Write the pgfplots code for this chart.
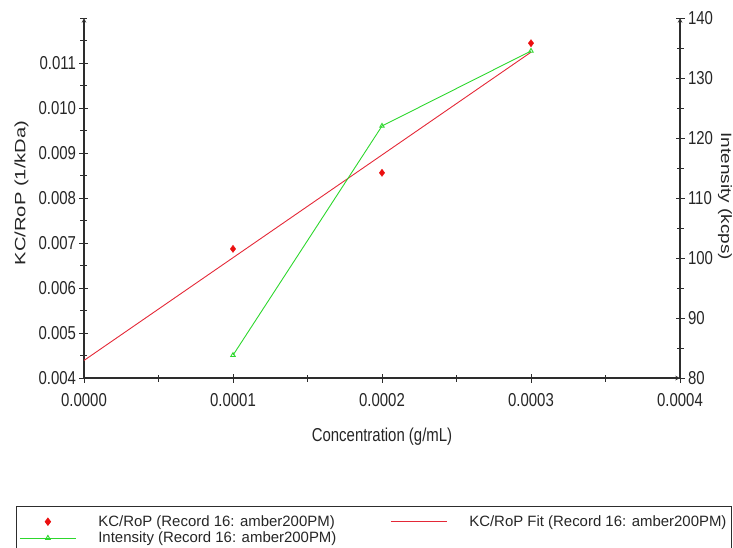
\documentclass[border=0pt]{standalone}
\usepackage{pgfplots}
\pgfplotsset{compat=1.18}
\usepackage{fontspec}
\setmainfont{Liberation Sans}

\definecolor{kred}{RGB}{235,15,15}
\definecolor{fitred}{RGB}{228,40,55}
\definecolor{igreen}{RGB}{45,215,45}
\definecolor{axgray}{RGB}{45,45,45}
\newcommand{\lfont}{\fontsize{15}{16}\selectfont}

\pgfplotsset{
  base/.style={
    width=596bp, height=360bp, scale only axis,
    xmin=0, xmax=0.0004,
    axis line style={axgray, line width=1.1pt, -},
    tick style={axgray, line width=0.9pt},
    major tick length=9bp, minor tick length=7bp,
    tick align=center,
    every tick label/.append style={font=\lfont, text=black!85, yscale=1.25, transform shape},
    /pgf/number format/assume math mode=true,
  }
}

\begin{document}
\begin{tikzpicture}
\begin{axis}[base,
  axis x line=bottom, axis y line=left,
  ymin=0.004, ymax=0.012,
  xtick={0,0.0001,0.0002,0.0003,0.0004},
  minor xtick={0.00005,0.00015,0.00025,0.00035},
  ytick={0.004,0.005,0.006,0.007,0.008,0.009,0.010,0.011},
  minor ytick={0.0045,0.0055,0.0065,0.0075,0.0085,0.0095,0.0105,0.0115,0.012},
  scaled x ticks=false, scaled y ticks=false,
  xticklabel style={yshift=-5bp, /pgf/number format/.cd, fixed, fixed zerofill, precision=4},
  yticklabel style={/pgf/number format/.cd, fixed, fixed zerofill, precision=3},
  xlabel={Concentration (g/mL)},
  ylabel={KC/RoP (1/kDa)},
  xlabel style={at={(axis description cs:0.5,-0.164)}, anchor=center, font=\lfont, text=black!85, yscale=1.25, transform shape},
  ylabel style={at={(axis description cs:-0.105,0.514)}, anchor=center, font=\lfont, text=black!85, xscale=1.35, transform shape},
]
\addplot[only marks, mark=diamond*, mark size=3.6bp, draw=kred, fill=kred, mark options={draw=kred, fill=kred}]
  coordinates {(0.0001,0.00687) (0.0002,0.00856) (0.0003,0.01144)};
\addplot[draw=fitred, line width=0.9pt]
  coordinates {(0,0.00439) (0.0003,0.01124)};
\coordinate (O) at (rel axis cs:0,0);
\end{axis}

\begin{axis}[base,
  axis x line=none, axis y line=right,
  ymin=80, ymax=140,
  ytick={80,90,100,110,120,130,140},
  minor ytick={85,95,105,115,125,135},
  ylabel={Intensity (kcps)},
  ylabel style={at={(axis description cs:1.0755,0.505)}, anchor=center, rotate=180, font=\lfont, text=black!85, xscale=1.27, transform shape},
  legend columns=2,
  legend cell align=left,
  legend image code/.code={\draw[mark repeat=2,mark phase=2,#1] plot coordinates {(0bp,0bp)(28bp,0bp)(56bp,0bp)};},
  legend style={at={(axis description cs:-0.114,-0.356)}, anchor=north west,
    draw=axgray, line width=0.8pt, font=\lfont,
    text=black!85, inner xsep=3bp, inner ysep=7bp, row sep=0bp,
    /tikz/every odd column/.append style={column sep=20bp},
    /tikz/every even column/.append style={column sep=52bp}},
]
\addlegendimage{only marks, mark=diamond*, mark size=3.6bp, draw=kred, fill=kred, mark options={draw=kred, fill=kred}}
\addlegendentry{KC/RoP (Record 16: amber200PM)}
\addlegendimage{legend image code/.code={\draw[draw=fitred, line width=0.9pt] (0bp,0bp) -- (56bp,0bp);}}
\addlegendentry{KC/RoP Fit (Record 16: amber200PM)}
\addplot[draw=igreen, line width=0.9pt, mark=triangle, mark size=2.6bp, mark options={solid, draw=igreen}]
  coordinates {(0.0001,83.8) (0.0002,122) (0.0003,134.5)};
\addlegendentry{Intensity (Record 16: amber200PM)}
\end{axis}
\pgfresetboundingbox
\path[use as bounding box] ([shift={(-84bp,-170bp)}]O) rectangle ([shift={(649bp,378bp)}]O);
\end{tikzpicture}
\end{document}
